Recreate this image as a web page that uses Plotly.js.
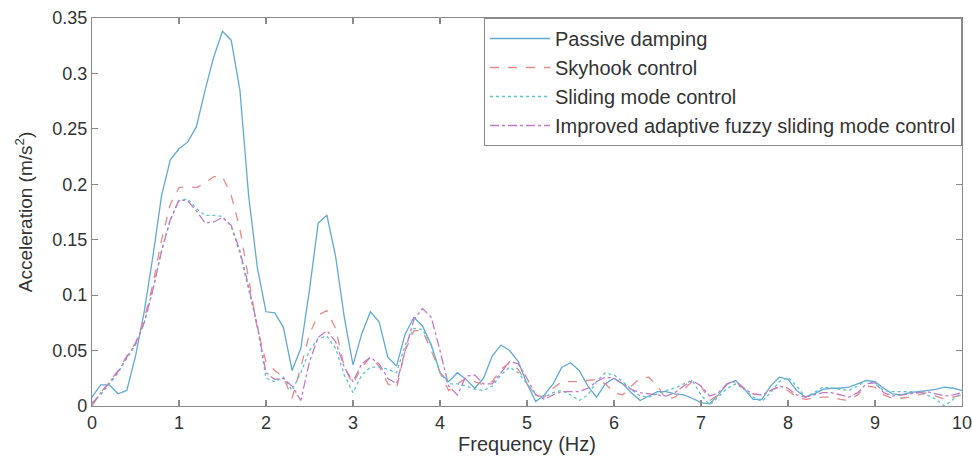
<!DOCTYPE html>
<html>
<head>
<meta charset="utf-8">
<script src="https://cdn.plot.ly/plotly-3.0.1.min.js"></script>
<style>html,body{margin:0;padding:0;background:#fff;}#chart{width:972px;height:465px;}</style>
</head>
<body>
<div id="chart"></div>
<script>
// Frequency axis (Hz), 0 to 10 in 0.1 steps
const frequency = [0,0.1,0.2,0.3,0.4,0.5,0.6,0.7,0.8,0.9,1,1.1,1.2,1.3,1.4,1.5,1.6,1.7,1.8,1.9,2,2.1,2.2,2.3,2.4,2.5,2.6,2.7,2.8,2.9,3,3.1,3.2,3.3,3.4,3.5,3.6,3.7,3.8,3.9,4,4.1,4.2,4.3,4.4,4.5,4.6,4.7,4.8,4.9,5,5.1,5.2,5.3,5.4,5.5,5.6,5.7,5.8,5.9,6,6.1,6.2,6.3,6.4,6.5,6.6,6.7,6.8,6.9,7,7.1,7.2,7.3,7.4,7.5,7.6,7.7,7.8,7.9,8,8.1,8.2,8.3,8.4,8.5,8.6,8.7,8.8,8.9,9,9.1,9.2,9.3,9.4,9.5,9.6,9.7,9.8,9.9,10];

const passiveDamping = [0.008,0.019,0.019,0.011,0.014,0.045,0.085,0.135,0.19,0.222,0.232,0.238,0.252,0.285,0.315,0.338,0.33,0.285,0.19,0.125,0.085,0.084,0.071,0.032,0.052,0.105,0.165,0.172,0.135,0.08,0.037,0.065,0.085,0.076,0.044,0.036,0.065,0.08,0.072,0.055,0.03,0.022,0.03,0.024,0.016,0.025,0.045,0.055,0.05,0.04,0.02,0.004,0.01,0.02,0.035,0.039,0.032,0.018,0.008,0.02,0.025,0.02,0.012,0.005,0.009,0.013,0.013,0.011,0.01,0.007,0.003,0.002,0.01,0.02,0.023,0.015,0.006,0.006,0.018,0.026,0.024,0.014,0.008,0.011,0.015,0.016,0.016,0.017,0.02,0.023,0.022,0.016,0.011,0.01,0.012,0.013,0.014,0.015,0.017,0.016,0.014];

const skyhookControl = [0,0.012,0.022,0.032,0.045,0.057,0.078,0.11,0.15,0.182,0.197,0.198,0.197,0.201,0.207,0.207,0.19,0.16,0.115,0.07,0.04,0.032,0.026,0.007,0.035,0.065,0.082,0.086,0.07,0.035,0.02,0.035,0.044,0.036,0.02,0.016,0.05,0.068,0.068,0.05,0.03,0.014,0.02,0.025,0.022,0.019,0.022,0.033,0.039,0.033,0.02,0.01,0.008,0.016,0.022,0.022,0.022,0.023,0.024,0.02,0.012,0.01,0.018,0.025,0.026,0.018,0.006,0.008,0.015,0.022,0.018,0.005,0.01,0.02,0.022,0.016,0.011,0.01,0.014,0.017,0.014,0.008,0.006,0.007,0.008,0.008,0.006,0.005,0.01,0.018,0.017,0.01,0.007,0.007,0.008,0.01,0.012,0.009,0.006,0.008,0.01];

const slidingModeControl = [0.003,0.01,0.02,0.03,0.043,0.055,0.075,0.105,0.14,0.168,0.185,0.187,0.178,0.172,0.172,0.171,0.162,0.138,0.105,0.072,0.025,0.022,0.026,0.014,0.03,0.05,0.061,0.063,0.052,0.028,0.012,0.028,0.035,0.035,0.033,0.03,0.055,0.07,0.069,0.055,0.03,0.02,0.02,0.018,0.015,0.014,0.018,0.028,0.035,0.03,0.02,0.01,0.008,0.012,0.014,0.01,0.005,0.01,0.022,0.03,0.028,0.022,0.015,0.009,0.008,0.011,0.014,0.016,0.02,0.023,0.01,0.001,0.008,0.016,0.02,0.015,0.008,0.004,0.012,0.022,0.026,0.018,0.008,0.012,0.017,0.016,0.015,0.014,0.018,0.023,0.02,0.014,0.013,0.013,0.013,0.012,0.01,0.006,0.0,0.006,0.012];

const improvedAfsmc = [0.002,0.012,0.021,0.031,0.044,0.056,0.075,0.105,0.14,0.168,0.186,0.185,0.176,0.165,0.166,0.17,0.163,0.14,0.108,0.073,0.03,0.024,0.025,0.018,0.005,0.04,0.062,0.068,0.058,0.035,0.022,0.038,0.044,0.038,0.025,0.02,0.05,0.078,0.088,0.08,0.05,0.018,0.01,0.027,0.028,0.02,0.02,0.03,0.04,0.038,0.025,0.01,0.006,0.01,0.013,0.013,0.013,0.016,0.022,0.026,0.025,0.02,0.015,0.012,0.011,0.01,0.009,0.012,0.018,0.023,0.018,0.009,0.012,0.02,0.022,0.015,0.011,0.01,0.014,0.018,0.016,0.01,0.008,0.01,0.012,0.012,0.01,0.008,0.012,0.02,0.021,0.012,0.009,0.01,0.011,0.012,0.013,0.011,0.009,0.01,0.012];

const seriesNames = ['Passive damping','Skyhook control','Sliding mode control','Improved adaptive fuzzy sliding mode control'];
const xTickVals = [0,1,2,3,4,5,6,7,8,9,10];
const yTickVals = [0,0.05,0.1,0.15,0.2,0.25,0.3,0.35];

const styles = [
  {color:'#62aad3', dash:'solid', width:1.3},
  {color:'#e68a8a', dash:'dash', width:1.3},
  {color:'#5cc4c8', dash:'dot', width:1.3},
  {color:'#c27ac8', dash:'dashdot', width:1.3}
];
const ys = [passiveDamping, skyhookControl, slidingModeControl, improvedAfsmc];

const traces = ys.map((y,i)=>({
  x: frequency, y: y, type:'scatter', mode:'lines', name: seriesNames[i],
  line: styles[i]
}));

const font = {family:'"Liberation Sans", Arial, sans-serif', color:'#333', size:18};
const axisCommon = {
  showline:true, mirror:'ticks', linecolor:'#8a8a8a', linewidth:1.2,
  ticks:'inside', ticklen:6, tickcolor:'#8a8a8a', tickwidth:1.2,
  showgrid:false, zeroline:false, tickfont:{size:18, color:'#333'},
  ticklabeloverflow:'allow'
};

const layout = {
  width:972, height:465,
  margin:{l:92, r:10, t:18, b:59},
  paper_bgcolor:'#fff', plot_bgcolor:'#fff',
  font: font,
  showlegend:true,
  legend:{x:1, xanchor:'right', y:1, yanchor:'top', bgcolor:'#fff',
    bordercolor:'#8a8a8a', borderwidth:1, font:{size:20, color:'#333'},
    itemwidth:60, tracegroupgap:0, traceorder:'normal'},
  xaxis: Object.assign({}, axisCommon, {
    range:[0,10.0001], tickvals:xTickVals, ticktext:xTickVals.map(String),
    title:{text:'Frequency (Hz)', font:{size:20, color:'#333'}, standoff:2}
  }),
  yaxis: Object.assign({}, axisCommon, {
    range:[0,0.35], tickvals:yTickVals, ticktext:yTickVals.map(String),
    title:{text:'Acceleration (m/s<sup>2</sup>)', font:{size:19, color:'#333'}, standoff:14}
  })
};

Plotly.newPlot('chart', traces, layout, {displayModeBar:false, staticPlot:true});
</script>
</body>
</html>
